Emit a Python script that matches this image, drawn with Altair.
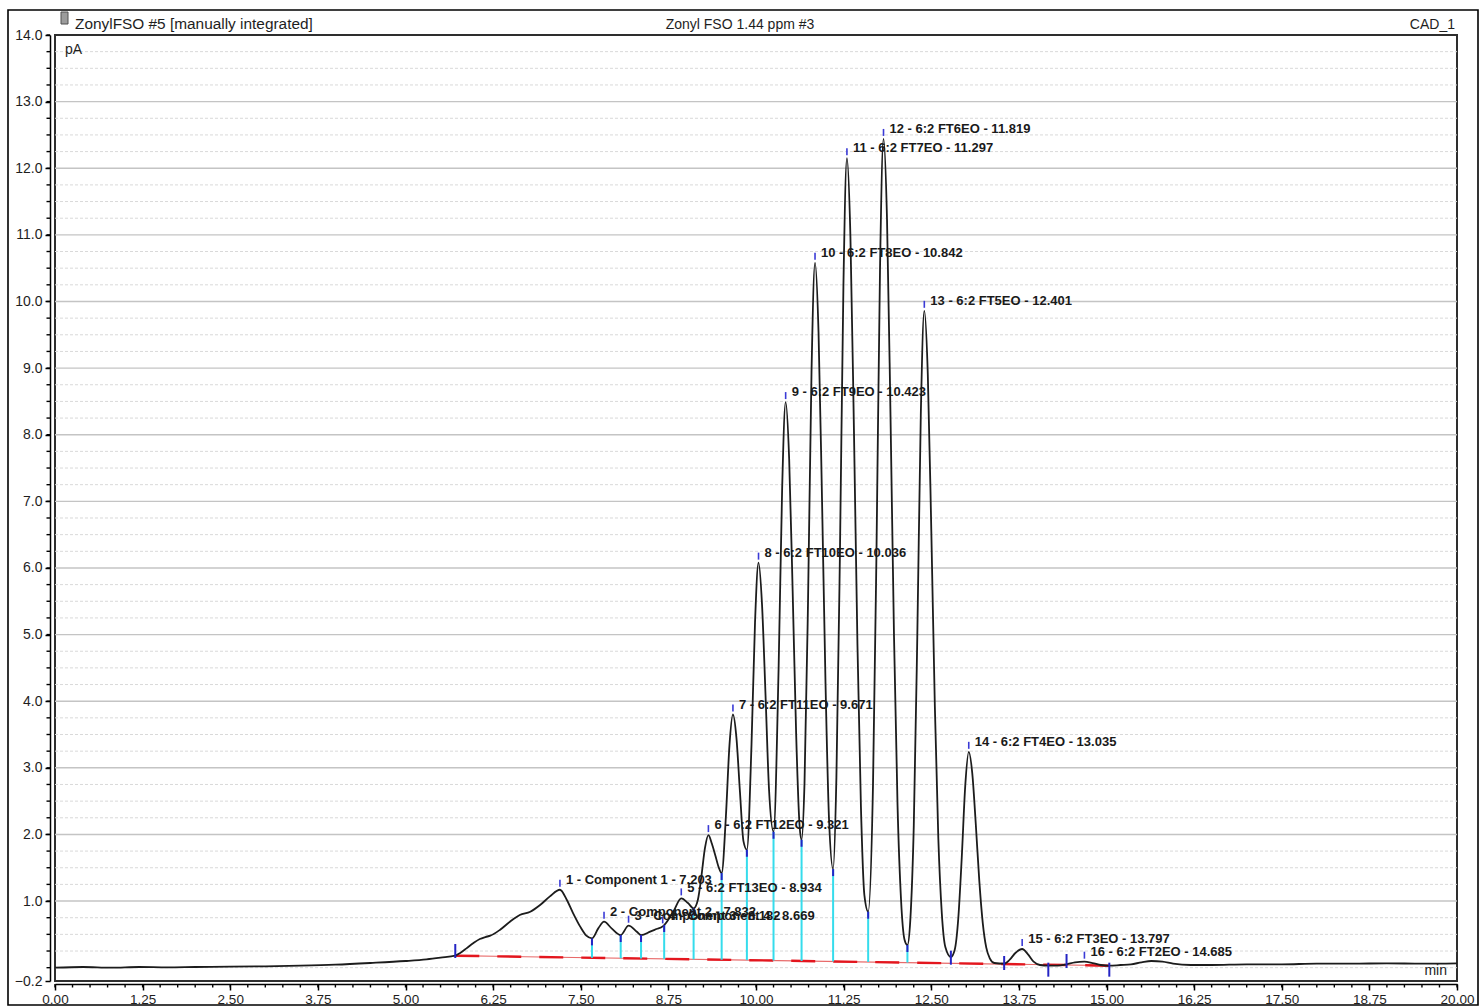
import numpy as np
import pandas as pd
import altair as alt

FONT = "Liberation Sans"

# ---- header / unit text -------------------------------------------------
header_left = "ZonylFSO #5 [manually integrated]"
header_center = "Zonyl FSO 1.44 ppm #3"
header_right = "CAD_1"
y_unit = "pA"
x_unit = "min"

# ---- detector trace (retention time in min, signal in pA) --------------
curve_t = [
    0.00, 0.40, 0.80, 1.20, 1.60, 2.00, 2.50, 3.00, 3.50, 4.00, 4.50, 5.00,
    5.30, 5.50, 5.71, 5.78, 5.87, 5.97, 6.06, 6.14, 6.21, 6.35, 6.49, 6.63,
    6.78, 6.92, 7.06, 7.203, 7.30, 7.39, 7.49, 7.58, 7.66, 7.75, 7.832, 7.94,
    8.07, 8.182, 8.30, 8.36, 8.49, 8.58, 8.669, 8.69, 8.82, 8.934, 9.03, 9.11,
    9.171, 9.221, 9.271, 9.321, 9.371, 9.421, 9.47, 9.51,
    9.571, 9.621, 9.671, 9.721, 9.771, 9.821, 9.87,
    9.936, 9.986, 10.036, 10.086, 10.136, 10.186, 10.25,
    10.323, 10.373, 10.423, 10.473, 10.523, 10.573, 10.623, 10.65,
    10.692, 10.742, 10.792, 10.842, 10.892, 10.942, 10.992, 11.042, 11.10,
    11.147, 11.197, 11.247, 11.297, 11.347, 11.397, 11.447, 11.497, 11.547, 11.60,
    11.669, 11.719, 11.769, 11.819, 11.869, 11.919, 11.969, 12.019, 12.069, 12.119, 12.16,
    12.201, 12.251, 12.301, 12.351, 12.401, 12.451, 12.501, 12.551, 12.601, 12.651, 12.701, 12.78,
    12.835, 12.885, 12.935, 12.985, 13.035, 13.085, 13.135, 13.185, 13.235, 13.285, 13.335, 13.40,
    13.54, 13.62, 13.70, 13.797, 13.88, 13.96, 14.05, 14.17, 14.30, 14.43, 14.55, 14.685,
    14.80, 14.92, 15.04, 15.20, 15.35, 15.50, 15.64, 15.80, 15.95, 16.20, 16.50, 17.00,
    17.50, 18.00, 18.50, 19.00, 19.50, 20.00,
]
curve_v = [
    0.00, 0.01, 0.00, 0.01, 0.005, 0.01, 0.015, 0.02, 0.03, 0.045, 0.07, 0.10,
    0.125, 0.15, 0.18, 0.22, 0.29, 0.37, 0.43, 0.46, 0.48, 0.57, 0.69, 0.79,
    0.84, 0.94, 1.07, 1.17, 1.02, 0.82, 0.62, 0.48, 0.44, 0.59, 0.69, 0.59,
    0.49, 0.63, 0.54, 0.49, 0.54, 0.58, 0.62, 0.64, 0.84, 1.04, 0.97, 0.89,
    1.02, 1.37, 1.79, 1.99, 1.86, 1.68, 1.50, 1.42,
    2.28, 3.33, 3.80, 3.45, 2.64, 1.90, 1.77,
    3.35, 5.18, 6.08, 5.45, 4.09, 2.67, 2.04,
    4.52, 7.19, 8.49, 7.64, 5.65, 3.50, 2.11, 1.92,
    2.77, 5.48, 8.94, 10.58, 9.54, 7.02, 4.25, 2.22, 1.48,
    2.86, 6.19, 10.23, 12.15, 10.97, 8.08, 4.86, 2.41, 1.08, 0.84,
    2.74, 6.27, 10.48, 12.44, 11.23, 8.27, 4.96, 2.44, 1.02, 0.42, 0.34,
    0.71, 2.14, 4.97, 8.30, 9.86, 8.90, 6.55, 3.94, 1.94, 0.81, 0.31, 0.16,
    0.27, 0.73, 1.65, 2.73, 3.24, 2.92, 2.16, 1.31, 0.67, 0.30, 0.14, 0.07,
    0.06, 0.12, 0.22, 0.28, 0.20, 0.09, 0.04, 0.03, 0.03, 0.05, 0.08, 0.09,
    0.07, 0.04, 0.03, 0.04, 0.05, 0.08, 0.10, 0.09, 0.06, 0.04, 0.04, 0.05,
    0.05, 0.06, 0.06, 0.065, 0.06, 0.065,
]

# ---- identified peaks ---------------------------------------------------
peak_no = list(range(1, 17))
peak_name = [
    "Component 1", "Component 2", "Component 3", "Component 4",
    "6:2 FT13EO", "6:2 FT12EO", "6:2 FT11EO", "6:2 FT10EO", "6:2 FT9EO",
    "6:2 FT8EO", "6:2 FT7EO", "6:2 FT6EO", "6:2 FT5EO", "6:2 FT4EO",
    "6:2 FT3EO", "6:2 FT2EO",
]
peak_rt = [7.203, 7.832, 8.182, 8.669, 8.934, 9.321, 9.671, 10.036, 10.423,
           10.842, 11.297, 11.819, 12.401, 13.035, 13.797, 14.685]

# ---- integration: baseline, peak-boundary drop lines, start/end marks ---
baseline_t = [5.71, 15.04]
baseline_v = [0.18, 0.03]
drop_t = [7.66, 8.07, 8.36, 8.69, 9.11, 9.51, 9.87, 10.25, 10.65, 11.10, 11.60, 12.16]
mark_t = [5.71, 12.78, 13.54, 14.17, 14.43, 15.04]
mark_v = [0.25, 0.15, 0.07, -0.03, 0.10, -0.03]

# ---- axis ticks ----------------------------------------------------------
x_major = [round(v, 2) for v in np.arange(0, 20.001, 1.25)]
x_minor = [round(v, 2) for v in np.arange(0, 20.001, 0.25)]
y_labels = [-0.2] + [float(v) for v in range(1, 15)]
y_grid_major = [float(v) for v in range(1, 14)]
y_grid_minor = [round(v, 2) for v in np.arange(0, 14.0, 0.25) if abs(v - round(v)) > 1e-9 or v == 0]
y_minor = [round(v, 2) for v in np.arange(0, 14.001, 0.25)]

W, H = 1402, 946

# ---- tables --------------------------------------------------------------
level = dict(zip(curve_t, curve_v))
trace = pd.DataFrame({"t": curve_t, "v": curve_v})
peaks = pd.DataFrame({
    "t": peak_rt,
    "v": [level[t] for t in peak_rt],
    "label": [f"{n} - {name} - {rt:.3f}" for n, name, rt in zip(peak_no, peak_name, peak_rt)],
})
base = pd.DataFrame({"t": baseline_t, "v": baseline_v})
drops = pd.DataFrame({
    "t": drop_t,
    "v": [level[t] for t in drop_t],
    "lo": np.interp(drop_t, baseline_t, baseline_v),
})
marks = pd.DataFrame({"t": mark_t, "v": mark_v})
one = pd.DataFrame({"k": [0]})

xs = alt.Scale(domain=[0, 20], nice=False, zero=False)
ys = alt.Scale(domain=[-0.2, 14], nice=False, zero=False)
x_axis = alt.Axis(values=x_major, format=".2f", title=None, grid=False, offset=3,
                  tickSize=6, labelPadding=2, labelFlush=False, labelOverlap=False,
                  labelFontSize=13.5)
y_axis = alt.Axis(values=y_labels, format=".1f", title=None, grid=False, offset=5,
                  tickSize=5, labelPadding=3, labelOverlap=False, labelFontSize=14)


def X(field="t"):
    return alt.X(f"{field}:Q", scale=xs, axis=x_axis)


def Y(field="v"):
    return alt.Y(f"{field}:Q", scale=ys, axis=y_axis)


# gridlines
grid_minor = alt.Chart(pd.DataFrame({"v": y_grid_minor})).mark_rule(
    color="#d9d9d9", strokeWidth=1, strokeDash=[3, 2]
).encode(y=Y(), x=alt.value(0), x2=alt.value(W))
grid_major = alt.Chart(pd.DataFrame({"v": y_grid_major})).mark_rule(
    color="#c4c4c4", strokeWidth=1.4
).encode(y=Y(), x=alt.value(0), x2=alt.value(W))

# integration baseline
base_thin = alt.Chart(base).mark_line(color="#e86a6a", strokeWidth=1.2).encode(x=X(), y=Y())
base_dash = alt.Chart(base).mark_line(color="#e3161e", strokeWidth=2.4, strokeDash=[24, 18]).encode(x=X(), y=Y())

# drop lines between adjacent peaks, with their blue tips on the trace
drop_lines = alt.Chart(drops).mark_rule(color="#35dcec", strokeWidth=2).encode(
    x=X(), y=Y("lo"), y2="v:Q"
)
drop_tips = alt.Chart(drops).mark_rule(color="#2424c4", strokeWidth=2, y2Offset=7).encode(
    x=X(), y=Y(), y2="v:Q"
)

# the trace itself
line = alt.Chart(trace).mark_line(color="#1c1c1c", strokeWidth=1.8, interpolate="monotone").encode(
    x=X(), y=Y()
)

# peak start / end marks
bound_marks = alt.Chart(marks).mark_rule(color="#2424c4", strokeWidth=2, yOffset=-7, y2Offset=7).encode(
    x=X(), y=Y(), y2="v:Q"
)

# peak-apex ticks and their labels
apex_ticks = alt.Chart(peaks).mark_rule(color="#3a3ad6", strokeWidth=1.6, yOffset=-10, y2Offset=-3).encode(
    x=X(), y=Y(), y2="v:Q"
)
apex_labels = alt.Chart(peaks).mark_text(
    align="left", baseline="middle", dx=6, dy=-10, font=FONT, fontSize=13,
    fontWeight="bold", color="#1a1a1a"
).encode(x=X(), y=Y(), text="label:N")

# minor axis ticks
x_minor_ticks = alt.Chart(pd.DataFrame({"t": x_minor})).mark_rule(color="#000", strokeWidth=1.4).encode(
    x=X(), y=alt.value(H + 3), y2=alt.value(H + 6.5)
)
y_minor_ticks = alt.Chart(pd.DataFrame({"v": y_minor})).mark_rule(color="#000", strokeWidth=1.4).encode(
    y=Y(), x=alt.value(-5), x2=alt.value(-8.5)
)

# header row, unit captions and the outer frame
def caption(text, x, y, align, size=14, baseline="alphabetic"):
    return alt.Chart(one).mark_text(
        align=align, baseline=baseline, font=FONT, fontSize=size, color="#1e1e1e"
    ).encode(x=alt.value(x), y=alt.value(y), text=alt.value(text))


head_l = caption(header_left, 20, -6, "left", 15.4)
head_c = caption(header_center, 685, -6, "center", 14)
head_r = caption(header_right, 1400, -6, "right", 14)
unit_y = caption(y_unit, 10, 19, "left", 14)
unit_x = caption(x_unit, 1392, 940, "right", 14)

icon = alt.Chart(one).mark_rect(fill="#9c9c9c", stroke="#505050", strokeWidth=1).encode(
    x=alt.value(6), x2=alt.value(13), y=alt.value(-23), y2=alt.value(-11)
)
frame = alt.Chart(one).mark_rect(fillOpacity=0, stroke="#000", strokeWidth=1.6).encode(
    x=alt.value(-47), x2=alt.value(1423), y=alt.value(-25), y2=alt.value(970)
)

chart = alt.layer(
    grid_minor, grid_major, base_thin, base_dash, drop_lines, line, drop_tips,
    bound_marks, apex_ticks, apex_labels, x_minor_ticks, y_minor_ticks,
    head_l, head_c, head_r, unit_y, unit_x, icon, frame,
).properties(
    width=W, height=H,
    autosize=alt.AutoSizeParams(type="none"),
    padding={"left": 55, "top": 35, "right": 23, "bottom": 27},
    background="white",
).configure_view(
    stroke="#2e2e2e", strokeWidth=2
).configure_axis(
    labelFont=FONT, labelColor="#1e1e1e", domainColor="#000", tickColor="#000",
    domainWidth=1.5, tickWidth=1.5,
)

chart.save("out.html", embed_options={"renderer": "svg", "actions": False})
